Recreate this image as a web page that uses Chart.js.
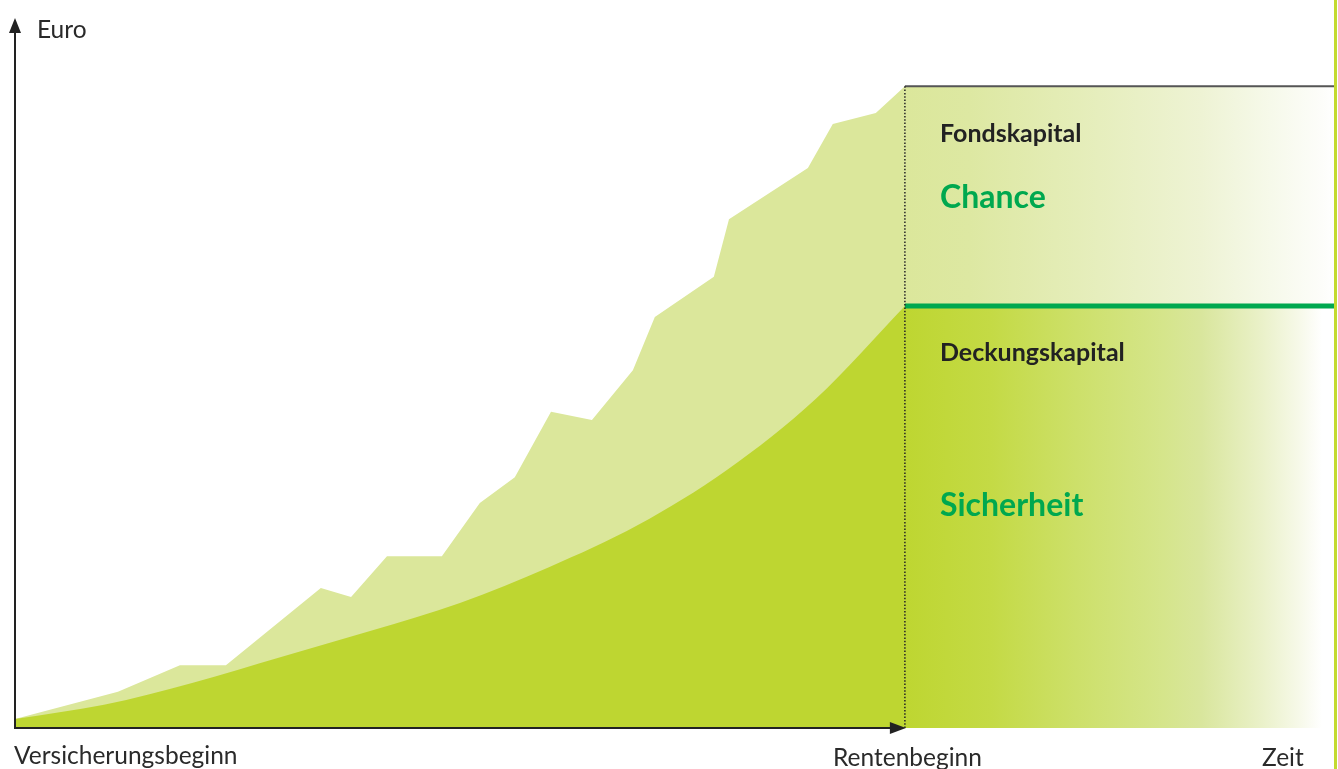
<!DOCTYPE html>
<html lang="de">
<head>
<meta charset="utf-8">
<title>Fondskapital und Deckungskapital</title>
<script src="https://cdn.jsdelivr.net/npm/chart.js@4.4.1/dist/chart.umd.min.js"></script>
<style>
  html, body { margin: 0; padding: 0; background: #fff; overflow: hidden; }
  .wrap { position: relative; width: 1338px; height: 769px; font-family: Lato, "Open Sans", sans-serif; color: #222; }
  canvas { position: absolute; left: 0; top: 0; }
  .lbl { position: absolute; white-space: nowrap; line-height: 1; }
  .axis { font-size: 24.5px; font-weight: 400; color: #2a2a2a; }
  .name { font-size: 25px; font-weight: 700; color: #222; }
  .big { font-size: 32px; font-weight: 700; color: #00a84f; }
</style>
</head>
<body>
<div class="wrap">
  <canvas id="chart" width="1338" height="769"></canvas>
  <div class="lbl axis" style="left:37px; top:17px;">Euro</div>
  <div class="lbl axis" style="left:14px; top:743px;">Versicherungsbeginn</div>
  <div class="lbl axis" style="left:833px; top:745px;">Rentenbeginn</div>
  <div class="lbl axis" style="left:1262px; top:745px;">Zeit</div>
  <div class="lbl name" style="left:940px; top:120px;">Fondskapital</div>
  <div class="lbl big" style="left:940px; top:180px;">Chance</div>
  <div class="lbl name" style="left:940px; top:339px;">Deckungskapital</div>
  <div class="lbl big" style="left:940px; top:488px;">Sicherheit</div>
</div>
<script>
// ---------- DATA ----------

// years since Versicherungsbeginn, values in thousand euro
const fondsYears = [0, 3.47, 5.56, 7.11, 10.31, 11.33, 12.54, 14.39, 15.67, 16.85, 18.07, 19.45, 20.83, 21.57, 23.56, 24.07, 26.73, 27.57, 29.02, 30];
const fondsValues = [1.4, 5.6, 9.7, 9.7, 21.6, 20.2, 26.5, 26.5, 34.7, 38.7, 48.8, 47.5, 55.2, 63.4, 69.6, 78.5, 86.4, 93.2, 94.9, 99];

const deckungYears = [0, 3, 6, 9, 12, 15, 18, 21, 24, 27, 30];
const deckungValues = [1.4, 3.6, 7.0, 11.0, 15.0, 19.3, 24.8, 31.3, 39.8, 50.8, 65.1];

// Rentenphase (after Rentenbeginn)
const rentenYears = [30, 44.5];
const fondsRente = [99, 99];
const deckungRente = [65.1, 65.1];

const rentenbeginn = 30;
const xMax = 44.5;
const yMax = 110;

// ---------- HELPERS ----------

const toPoints = (xs, ys) => xs.map((x, i) => ({ x, y: ys[i] }));

function fadeGradient(stops) {
  return (context) => {
    const chart = context.chart;
    if (!chart.chartArea) return stops[0][1];
    const xs = chart.scales.x;
    const g = chart.ctx.createLinearGradient(
      xs.getPixelForValue(rentenbeginn), 0, xs.getPixelForValue(xMax), 0
    );
    stops.forEach(([pos, col]) => g.addColorStop(pos, col));
    return g;
  };
}

// ---------- DECORATION PLUGIN ----------

const decoPlugin = {
  id: "deco",
  afterDatasetsDraw(chart) {
    const { ctx, chartArea, scales } = chart;
    const x0 = scales.x.getPixelForValue(0);
    const xR = scales.x.getPixelForValue(rentenbeginn);
    const xEnd = scales.x.getPixelForValue(xMax);
    const y0 = scales.y.getPixelForValue(0);
    const yTop = scales.y.getPixelForValue(fondsRente[0]);
    ctx.save();

    // dotted line at Rentenbeginn
    ctx.strokeStyle = "#222";
    ctx.lineWidth = 1.5;
    ctx.setLineDash([1.5, 1.8]);
    ctx.beginPath();
    ctx.moveTo(xR, yTop);
    ctx.lineTo(xR, y0);
    ctx.stroke();
    ctx.setLineDash([]);

    // axes
    ctx.strokeStyle = "#222";
    ctx.fillStyle = "#222";
    ctx.lineWidth = 2;
    ctx.beginPath();
    ctx.moveTo(x0, y0);
    ctx.lineTo(x0, chartArea.top + 12);
    ctx.moveTo(x0 - 1, y0);
    ctx.lineTo(xR - 14, y0);
    ctx.stroke();

    // arrow heads
    ctx.beginPath();
    ctx.moveTo(x0, chartArea.top + 3);
    ctx.lineTo(x0 - 6, chartArea.top + 18);
    ctx.lineTo(x0 + 6, chartArea.top + 18);
    ctx.closePath();
    ctx.fill();
    ctx.beginPath();
    ctx.moveTo(xR + 1, y0);
    ctx.lineTo(xR - 15, y0 - 6);
    ctx.lineTo(xR - 15, y0 + 6);
    ctx.closePath();
    ctx.fill();

    // frame line on the right
    ctx.strokeStyle = "#c3da30";
    ctx.lineWidth = 3;
    ctx.beginPath();
    ctx.moveTo(xEnd + 0.5, 0);
    ctx.lineTo(xEnd + 0.5, chart.height);
    ctx.stroke();

    ctx.restore();
  }
};

// ---------- CHART ----------

new Chart(document.getElementById("chart"), {
  type: "line",
  data: {
    datasets: [
      {
        label: "Deckungskapital Rente",
        data: toPoints(rentenYears, deckungRente),
        fill: "origin",
        borderColor: "#00a84f",
        borderWidth: 5,
        backgroundColor: fadeGradient([
          [0, "#bed631"], [0.2, "#c4da45"], [0.4, "#cde06a"], [0.6, "#d5e58b"],
          [0.69, "#d9e69d"], [0.83, "#eaf1c9"], [0.92, "#f7f9ea"], [0.97, "#ffffff"], [1, "#ffffff"]
        ]),
        pointRadius: 0
      },
      {
        label: "Deckungskapital",
        data: toPoints(deckungYears, deckungValues),
        fill: "origin",
        borderWidth: 0,
        borderColor: "rgba(0,0,0,0)",
        backgroundColor: "#bed631",
        cubicInterpolationMode: "monotone",
        pointRadius: 0
      },
      {
        label: "Fondskapital Rente",
        data: toPoints(rentenYears, fondsRente),
        fill: "origin",
        borderColor: "#555",
        borderWidth: 2,
        backgroundColor: fadeGradient([
          [0, "#dbe79b"], [0.15, "#dde8a2"], [0.45, "#e6eebd"], [0.69, "#eef3d4"],
          [0.85, "#f6f9ea"], [0.97, "#fdfdfa"], [1, "#ffffff"]
        ]),
        pointRadius: 0
      },
      {
        label: "Fondskapital",
        data: toPoints(fondsYears, fondsValues),
        fill: "origin",
        borderWidth: 0,
        borderColor: "rgba(0,0,0,0)",
        backgroundColor: "#dbe79b",
        tension: 0,
        pointRadius: 0
      }
    ]
  },
  options: {
    responsive: false,
    animation: false,
    layout: { padding: { left: 15, right: 3, top: 15, bottom: 41 } },
    plugins: {
      legend: { display: false },
      tooltip: { enabled: false }
    },
    scales: {
      x: { type: "linear", min: 0, max: xMax, display: false },
      y: { type: "linear", min: 0, max: yMax, display: false }
    }
  },
  plugins: [decoPlugin]
});
</script>
</body>
</html>
